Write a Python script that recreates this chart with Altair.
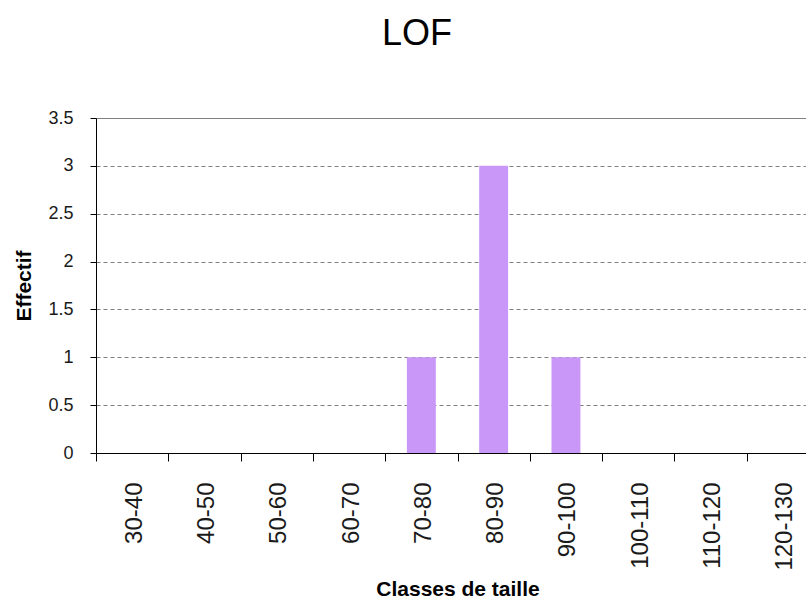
import altair as alt
import pandas as pd

# Size classes and counts per class
classes = ["30-40", "40-50", "50-60", "60-70", "70-80",
           "80-90", "90-100", "100-110", "110-120", "120-130"]
effectifs = [0, 0, 0, 0, 1, 3, 1, 0, 0, 0]
y_ticks = [0, 0.5, 1, 1.5, 2, 2.5, 3, 3.5]

df = pd.DataFrame({"classe": classes, "effectif": effectifs})

FONT = "Liberation Sans"
STEP = 72.3  # width of one size class on the x axis

x_axis = alt.Axis(
    labelAngle=270, labelAlign="right", labelBaseline="middle",
    labelFontSize=24, labelPadding=21, labelColor="#1a1a1a", labelFont=FONT,
    # ticks sit on the class boundaries, labels stay centred on the bars
    tickSize=8, tickOffset=-STEP / 2, labelOffset=STEP / 2 + 2,
    tickColor="black", domainColor="black",
    title="Classes de taille", titleFontSize=21, titleFontWeight="bold",
    titleFont=FONT, titleColor="black",
    titleX=361.5, titleY=142, titleAlign="center", titleBaseline="alphabetic",
)

y_axis = alt.Axis(
    values=y_ticks, format=".1~f",
    labelFontSize=18, labelPadding=17, labelColor="#1a1a1a", labelFont=FONT,
    tickSize=6, tickColor="black", domainColor="black",
    grid=True, gridColor="#808080",
    gridDash={"condition": {"test": "datum.value === 3.5", "value": []}, "value": [4, 3]},
    title="Effectif", titleFontSize=21, titleFontWeight="bold",
    titleFont=FONT, titleColor="black",
    titleAngle=270, titleX=-72, titleY=167.5,
    titleAlign="center", titleBaseline="middle",
)

chart = (
    alt.Chart(df)
    .mark_bar(color="#C997F8")
    .encode(
        x=alt.X("classe:N", sort=classes,
                scale=alt.Scale(range=[0, 10 * STEP], paddingInner=0.6, paddingOuter=0.3),
                axis=x_axis),
        y=alt.Y("effectif:Q",
                scale=alt.Scale(domain=[0, 3.5], nice=False),
                axis=y_axis),
    )
    .properties(
        width=710,
        height=335,
        title=alt.TitleParams(
            "LOF", font=FONT, fontSize=36, fontWeight="normal", color="black",
            anchor="middle", frame="group", dx=-34, offset=28,
            baseline="alphabetic",
        ),
        autosize=alt.AutoSizeParams(type="none"),
        padding={"left": 96, "top": 118, "right": 0, "bottom": 145},
        background="white",
    )
    .configure_view(stroke=None)
)

chart.save("out.html", embed_options={"renderer": "svg", "actions": False})
